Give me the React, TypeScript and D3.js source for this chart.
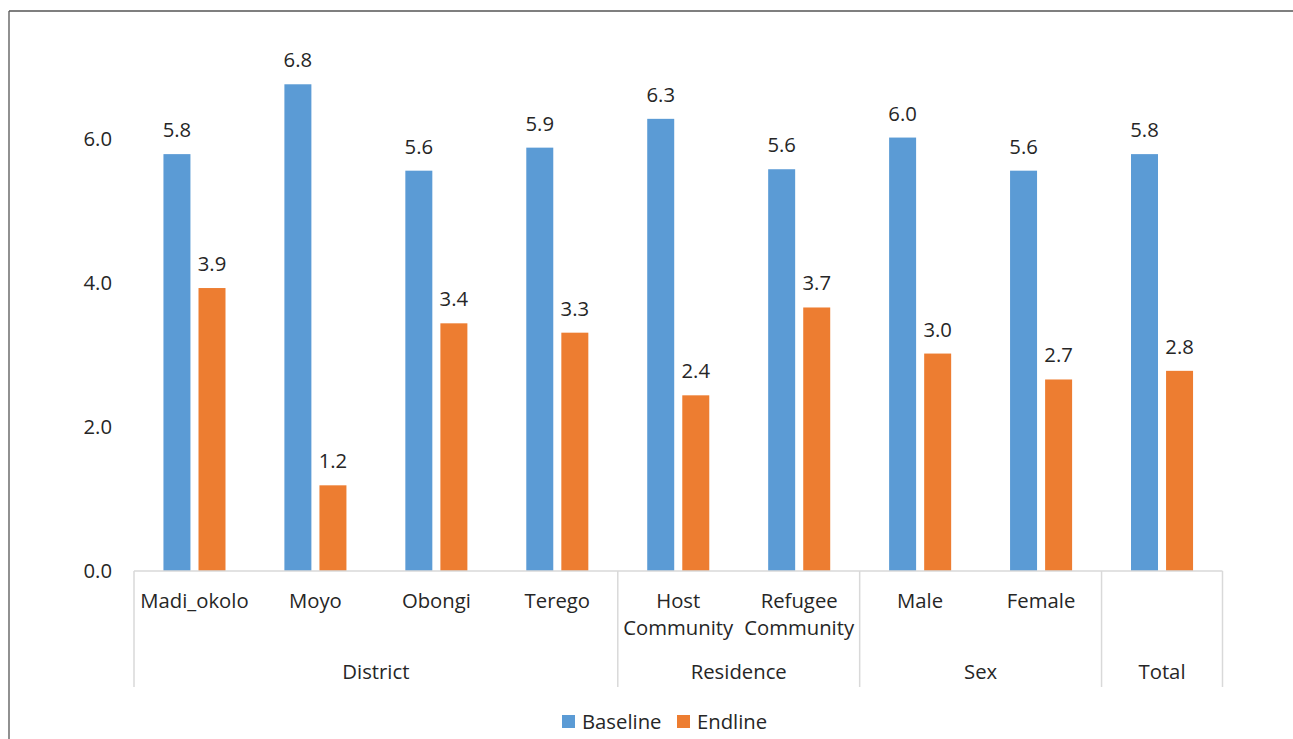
import React from "react";
import * as d3 from "d3";

const categories = ["Madi_okolo", "Moyo", "Obongi", "Terego", "Host\nCommunity", "Refugee\nCommunity", "Male", "Female", ""];
const groups = ["District", "Residence", "Sex", "Total"];
const groupSizes = [4, 2, 2, 1];
const baseline = [5.79, 6.76, 5.56, 5.88, 6.28, 5.58, 6.02, 5.56, 5.79];
const endline = [3.93, 1.19, 3.44, 3.31, 2.44, 3.66, 3.02, 2.66, 2.78];
const seriesNames = ["Baseline", "Endline"];
const seriesColors = ["#5B9BD5", "#ED7D31"];
const yTicks = [0, 2, 4, 6];

const W = 1293, H = 739;
const left = 134, right = 1222.5, top = 139, bottom = 571;
const FONT = "'Open Sans', sans-serif";
const TXT = "#262626";
const FS = 20.3;

export default function App() {
  const keys = categories.map((_, i) => String(i));
  const x = d3.scaleBand<string>().domain(keys).range([left, right]).paddingInner(0.487).paddingOuter(0.2435);
  const inner = d3.scaleBand<string>().domain(seriesNames).range([0, x.bandwidth()]).paddingInner(0.23);
  const y = d3.scaleLinear().domain([0, 6]).range([bottom, top]);
  const fmt = d3.format(".1f");
  const series = [baseline, endline];
  const step = x.step();

  const bounds: number[] = [left];
  let acc = 0;
  groupSizes.forEach((s) => { acc += s; bounds.push(left + acc * step); });

  return (
    <svg width={W} height={H} style={{ position: "absolute", left: 0, top: 0, background: "#fff" }} fontFamily={FONT}>
      <rect x={0} y={0} width={W} height={H} fill="#fff" />
      <line x1={9} y1={11} x2={W} y2={11} stroke="#555" strokeWidth={1.3} />
      <line x1={9} y1={11} x2={9} y2={H} stroke="#555" strokeWidth={1.3} />

      {yTicks.map((t) => (
        <text key={t} x={112} y={y(t)} dy="0.35em" textAnchor="end" fontSize={FS} fill={TXT}>{fmt(t)}</text>
      ))}

      {keys.map((k, i) => (
        <g key={k}>
          {series.map((vals, s) => {
            const bx = (x(k) as number) + (inner(seriesNames[s]) as number);
            const bw = inner.bandwidth();
            return (
              <g key={s}>
                <rect x={bx} y={y(vals[i])} width={bw} height={bottom - y(vals[i])} fill={seriesColors[s]} />
                <text x={bx + bw / 2} y={y(vals[i]) - 17} textAnchor="middle" fontSize={FS} fill={TXT}>{fmt(vals[i])}</text>
              </g>
            );
          })}
        </g>
      ))}

      <line x1={left} y1={bottom} x2={right} y2={bottom} stroke="#D9D9D9" strokeWidth={1.5} />
      {bounds.map((b, i) => (
        <line key={i} x1={b} y1={bottom} x2={b} y2={687} stroke="#D9D9D9" strokeWidth={1.5} />
      ))}

      {keys.map((k, i) => {
        const cx = (x(k) as number) + x.bandwidth() / 2;
        const lines = categories[i].split("\n");
        return (
          <text key={k} x={cx} y={601} textAnchor="middle" fontSize={FS} fill={TXT}>
            {lines.map((l, j) => (
              <tspan key={j} x={cx} dy={j === 0 ? "0.35em" : 27}>{l}</tspan>
            ))}
          </text>
        );
      })}

      {groups.map((g, i) => (
        <text key={g} x={(bounds[i] + bounds[i + 1]) / 2} y={672} dy="0.35em" textAnchor="middle" fontSize={FS} fill={TXT}>{g}</text>
      ))}

      {seriesNames.map((n, i) => {
        const lx = i === 0 ? 562 : 677;
        return (
          <g key={n}>
            <rect x={lx} y={715} width={13} height={13} fill={seriesColors[i]} />
            <text x={lx + 20} y={721.5} dy="0.35em" fontSize={FS} fill={TXT}>{n}</text>
          </g>
        );
      })}
    </svg>
  );
}
